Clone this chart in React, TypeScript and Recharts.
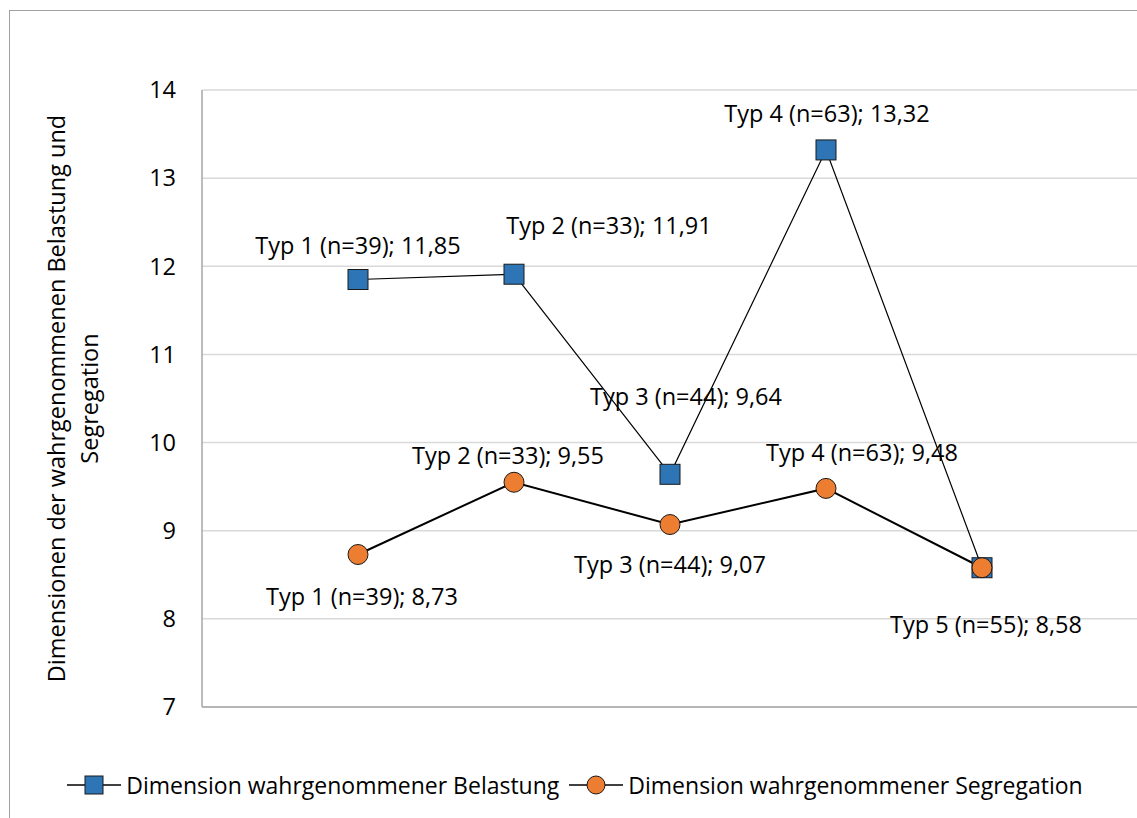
import React from 'react'
import {
  LineChart,
  Line,
  XAxis,
  YAxis,
  CartesianGrid,
  LabelList,
} from 'recharts'

const types = ['Typ 1', 'Typ 2', 'Typ 3', 'Typ 4', 'Typ 5']
const counts = [39, 33, 44, 63, 55]
const belastung = [11.85, 11.91, 9.64, 13.32, 8.58]
const segregation = [8.73, 9.55, 9.07, 9.48, 8.58]
const yTicks = [7, 8, 9, 10, 11, 12, 13, 14]

const data = types.map((t, i) => ({
  x: i + 1,
  name: t,
  n: counts[i],
  belastung: belastung[i],
  segregation: segregation[i],
}))

// label placement relative to each point (text centre)
const belastungLabelPos = [
  [0, -35],
  [95, -49],
  [16, -78],
  [1, -37],
  [4, 56],
]
const segregationLabelPos = [
  [4, 41],
  [-6, -27],
  [0, 39],
  [36, -36],
  null,
]

const FONT = '"Open Sans", sans-serif'
const FS = 23.5
const BLUE = '#2e75b6'
const ORANGE = '#ed7d31'

const fmt = (v: number) => v.toFixed(2).replace('.', ',')

const makeLabel = (key: 'belastung' | 'segregation', pos: any[]) => (props: any) => {
  const { x, y, index } = props
  const p = pos[index]
  if (!p) return null
  const d = data[index]
  return (
    <text
      key={`${key}-lbl-${index}`}
      x={x + p[0]}
      y={y + p[1]}
      textAnchor="middle"
      dominantBaseline="central"
      fontFamily={FONT}
      fontSize={FS}
      fill="#000"
    >
      {`${d.name} (n=${d.n}); ${fmt(d[key])}`}
    </text>
  )
}

const SquareDot = (props: any) => {
  const { cx, cy, index } = props
  if (cx == null || cy == null) return null
  return (
    <rect
      key={`sq-${index}`}
      x={cx - 10}
      y={cy - 10}
      width={20}
      height={20}
      fill={BLUE}
      stroke="#1a1a1a"
      strokeWidth={1}
    />
  )
}

const CircleDot = (props: any) => {
  const { cx, cy, index } = props
  if (cx == null || cy == null) return null
  return (
    <circle
      key={`ci-${index}`}
      cx={cx}
      cy={cy}
      r={10}
      fill={ORANGE}
      stroke="#1a1a1a"
      strokeWidth={1}
    />
  )
}

const AxisTitle = (props: any) => {
  const { viewBox } = props
  const cy = viewBox.y + viewBox.height / 2
  return (
    <g>
      <text
        transform={`translate(60, ${cy}) rotate(-90)`}
        textAnchor="middle"
        dominantBaseline="central"
        fontFamily={FONT}
        fontSize={FS}
        fill="#000"
      >
        <tspan x={0} dy={-4}>Dimensionen der wahrgenommenen Belastung und</tspan>
        <tspan x={0} dy={33}>Segregation</tspan>
      </text>
    </g>
  )
}

const LegendItem = ({ kind, text }: { kind: 'square' | 'circle'; text: string }) => (
  <span style={{ display: 'inline-flex', alignItems: 'center', marginRight: 10 }}>
    <svg width={54} height={24} style={{ marginRight: 5 }}>
      <line x1={0} y1={12} x2={54} y2={12} stroke="#000" strokeWidth={1.5} />
      {kind === 'square' ? (
        <rect x={18} y={3} width={18} height={18} fill={BLUE} stroke="#1a1a1a" />
      ) : (
        <circle cx={27} cy={12} r={9} fill={ORANGE} stroke="#1a1a1a" />
      )}
    </svg>
    <span>{text}</span>
  </span>
)

export default function App() {
  return (
    <div
      style={{
        position: 'absolute',
        left: 0,
        top: 0,
        width: 1137,
        height: 818,
        overflow: 'hidden',
        background: '#fff',
      }}
    >
      <div
        style={{
          position: 'absolute',
          left: 9,
          top: 10,
          width: 1200,
          height: 900,
          border: '1px solid #a0a0a0',
        }}
      />
      <div style={{ position: 'absolute', left: 0, top: 0 }}>
        <LineChart
          width={1160}
          height={818}
          data={data}
          margin={{ top: 90, right: 22, bottom: 110, left: 142 }}
        >
          <CartesianGrid horizontal vertical={false} stroke="#d9d9d9" strokeWidth={1.5} />
          <XAxis
            dataKey="x"
            type="number"
            domain={[0, 6]}
            tick={false}
            tickLine={false}
            axisLine={{ stroke: '#a6a6a6', strokeWidth: 1.5 }}
            height={1}
          />
          <YAxis
            domain={[7, 14]}
            ticks={yTicks}
            width={60}
            tickLine={false}
            tickMargin={20}
            axisLine={{ stroke: '#a6a6a6', strokeWidth: 1.5 }}
            tick={{ fill: '#000', fontSize: FS, fontFamily: FONT }}
            label={<AxisTitle />}
          />
          <Line
            dataKey="belastung"
            stroke="#000"
            strokeWidth={1.2}
            isAnimationActive={false}
            dot={<SquareDot />}
            activeDot={false}
          >
            <LabelList dataKey="belastung" content={makeLabel('belastung', belastungLabelPos)} />
          </Line>
          <Line
            dataKey="segregation"
            stroke="#000"
            strokeWidth={2}
            isAnimationActive={false}
            dot={<CircleDot />}
            activeDot={false}
          >
            <LabelList dataKey="segregation" content={makeLabel('segregation', segregationLabelPos)} />
          </Line>
        </LineChart>
      </div>
      <div
        style={{
          position: 'absolute',
          left: 0,
          width: 1160,
          top: 769,
          display: 'flex',
          justifyContent: 'center',
          fontFamily: FONT,
          fontSize: 23,
          color: '#000',
        }}
      >
        <LegendItem kind="square" text="Dimension wahrgenommener Belastung" />
        <LegendItem kind="circle" text="Dimension wahrgenommener Segregation" />
      </div>
    </div>
  )
}
